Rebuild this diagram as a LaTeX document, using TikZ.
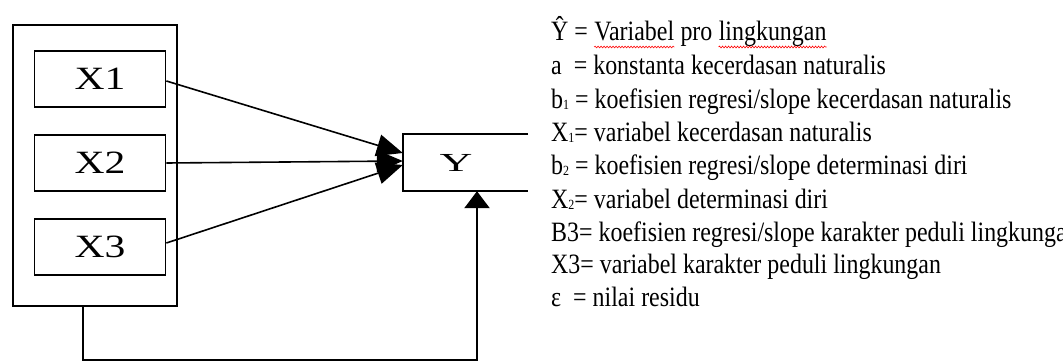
\documentclass[tikz,border=0pt]{standalone}
\usepackage{fontspec}
\setmainfont{Liberation Serif}
\newfontfamily\legendfont[FakeStretch=0.855]{Liberation Serif}
\newfontfamily\boxfont[FakeStretch=1.28]{Liberation Serif}
\newfontfamily\yfont[FakeStretch=1.75]{Liberation Serif}
\usetikzlibrary{arrows.meta,decorations.pathmorphing}
% small lowered index digit used in the legend (b1, X1, ...)
\newcommand{\lowidx}[1]{\raisebox{-1pt}{\fontsize{14}{14}\selectfont #1}}

\begin{document}
\begin{tikzpicture}[x=1pt,y=-1pt,
  frame/.style={draw, line width=2pt},
  varbox/.style={draw, line width=1.8pt, minimum width=131pt, minimum height=56pt,
    inner sep=0pt, font=\boxfont\fontsize{32.5}{32.5}\selectfont},
  link/.style={line width=1.6pt, -{Triangle[length=26pt,width=22pt]}},
  feedback/.style={line width=2.4pt, -{Triangle[length=17pt,width=25pt]}},
  legend/.style={anchor=base west, inner sep=0pt, font=\legendfont\fontsize{28}{28}\selectfont},
  spell/.style={draw=red, line width=0.6pt, decorate,
    decoration={snake, amplitude=0.9pt, segment length=3pt}}]

\clip (0,0) rectangle (1063,361);
\fill[white] (0,0) rectangle (1063,361);

% group of predictors
\node[frame, minimum width=164pt, minimum height=281pt, inner sep=0pt] (grp) at (95,165.5) {};
\node[varbox] (x1) at (100,79) {X1};
\node[varbox] (x2) at (100,163) {X2};
\node[varbox] (x3) at (100,247) {X3};

% dependent variable (right side open)
\node[minimum width=125pt, minimum height=57pt, inner sep=0pt] (Y) at (465.5,162.5) {};
\node[inner sep=0pt, font=\yfont\fontsize{26}{26}\selectfont] (ylab) at (456,162.5) {Y};
\draw[line width=1.8pt] (Y.north east) -- (Y.north west) -- (Y.south west) -- (Y.south east);

% regression paths
\draw[link] ([yshift=-2pt]x1.east) -- ([yshift=9.5pt]Y.west);
\draw[link] (x2.east) -- ([yshift=1.5pt]Y.west);
\draw[link] ([yshift=4pt]x3.east) -- ([yshift=-2.5pt]Y.west);

% residual path
\coordinate (c1) at (83,360);
\coordinate (c2) at (477,360);
\draw[feedback] (grp.south -| c1) -- (c1) -- (c2) -- (Y.south -| c2);

% legend
\node[legend] (l1a) at (551,41) {Ŷ =\ \null};
\node[legend] (l1b) at (l1a.base east) {Variabel};
\node[legend] (l1c) at (l1b.base east) {\null\ pro\ \null};
\node[legend] (l1d) at (l1c.base east) {lingkungan};
\draw[spell] ([yshift=-6pt]l1b.base west) -- ([yshift=-6pt]l1b.base east);
\draw[spell] ([yshift=-6pt]l1d.base west) -- ([yshift=-6pt]l1d.base east);
\node[legend] (l2) at (551,74.5) {a\ \ = konstanta kecerdasan naturalis};
\node[legend] (l3) at (551,108) {b\lowidx{1} = koefisien regresi/slope kecerdasan naturalis};
\node[legend] (l4) at (551,141) {X\lowidx{1}= variabel kecerdasan naturalis};
\node[legend] (l5) at (551,174.5) {b\lowidx{2} = koefisien regresi/slope determinasi diri};
\node[legend] (l6) at (551,208) {X\lowidx{2}= variabel determinasi diri};
\node[legend] (l7) at (551,241) {B3= koefisien regresi/slope karakter peduli lingkungan};
\node[legend] (l8) at (551,273.5) {X3= variabel karakter peduli lingkungan};
\node[legend] (l9) at (551,306) {ε\ \ = nilai residu};
\end{tikzpicture}
\end{document}
